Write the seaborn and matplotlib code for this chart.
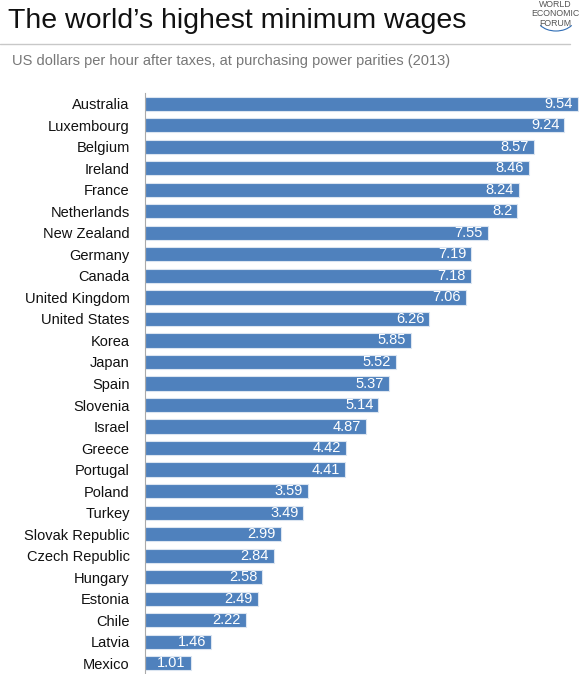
import numpy as np
import pandas as pd
import matplotlib
matplotlib.use("Agg")
import matplotlib.pyplot as plt
from matplotlib.patches import Arc
from matplotlib.ticker import FixedLocator
import seaborn as sns

sns.set_style("white")
plt.rcParams['font.family'] = ['Liberation Sans', 'DejaVu Sans']

countries = ["Australia", "Luxembourg", "Belgium", "Ireland", "France", "Netherlands",
             "New Zealand", "Germany", "Canada", "United Kingdom", "United States",
             "Korea", "Japan", "Spain", "Slovenia", "Israel", "Greece", "Portugal",
             "Poland", "Turkey", "Slovak Republic", "Czech Republic", "Hungary",
             "Estonia", "Chile", "Latvia", "Mexico"]
wages = [9.54, 9.24, 8.57, 8.46, 8.24, 8.2, 7.55, 7.19, 7.18, 7.06, 6.26, 5.85,
         5.52, 5.37, 5.14, 4.87, 4.42, 4.41, 3.59, 3.49, 2.99, 2.84, 2.58, 2.49,
         2.22, 1.46, 1.01]
labels = ["9.54", "9.24", "8.57", "8.46", "8.24", "8.2", "7.55", "7.19", "7.18",
          "7.06", "6.26", "5.85", "5.52", "5.37", "5.14", "4.87", "4.42", "4.41",
          "3.59", "3.49", "2.99", "2.84", "2.58", "2.49", "2.22", "1.46", "1.01"]

df = pd.DataFrame({"country": countries, "wage": wages})

fig = plt.figure(figsize=(5.81, 6.74), dpi=100)
ax = fig.add_axes([145 / 581, 0.0, 434 / 581, 1 - 93 / 674])

sns.barplot(data=df, y="country", x="wage", orient="h", color="#4f81bd",
            saturation=1, width=0.66, edgecolor="#dbe5f1", linewidth=0.8, ax=ax)

for i, (v, t) in enumerate(zip(wages, labels)):
    ax.text(v - 0.11, i, t, color="white", ha="right", va="center", fontsize=10.5)

ax.set_xlim(0, 9.56)
ax.set_ylim(len(countries) - 0.5, -0.5)
ax.set_xlabel("")
ax.set_ylabel("")
ax.set_xticks([])
ax.tick_params(axis="y", which="major", length=0, pad=11, labelsize=10.5, labelcolor="#111111")
ax.yaxis.set_minor_locator(FixedLocator(np.arange(-0.5, len(countries), 1.0)))
ax.tick_params(axis="y", which="minor", length=4, width=0.8, color="#aaaaaa", direction="out")
for s in ["top", "right", "bottom"]:
    ax.spines[s].set_visible(False)
ax.spines["left"].set_color("#aaaaaa")
ax.spines["left"].set_linewidth(0.8)

# header
fig.text(8 / 581, 1 - 21 / 674, "The world\u2019s highest minimum wages", fontsize=20.5,
         va="center", ha="left", color="#111111")
fig.add_artist(plt.Line2D([0, 570 / 581], [1 - 44 / 674] * 2, color="#c8c8c8", lw=1))
fig.text(12 / 581, 1 - 61 / 674,
         "US dollars per hour after taxes, at purchasing power parities (2013)",
         fontsize=10.5, va="center", ha="left", color="#777777")

# logo
fig.text(555 / 581, 1 - 14 / 674, "WORLD\nECONOMIC\nFORUM", fontsize=6.3, ha="center",
         va="center", color="#555555", linespacing=1.05)
fig.add_artist(Arc((5.56, 6.56), 0.38, 0.26, theta1=205, theta2=335,
                   transform=fig.dpi_scale_trans, color="#2f6db5", lw=0.8))

fig.savefig("out.png", dpi=100)
